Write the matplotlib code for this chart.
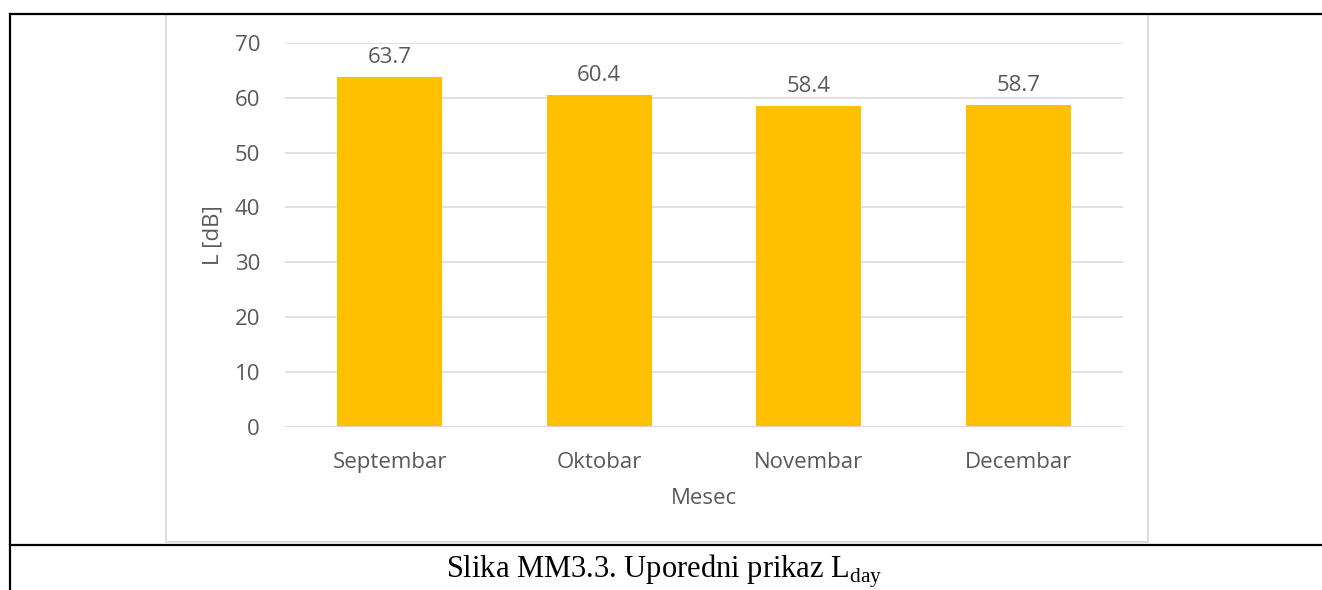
import matplotlib
matplotlib.use("Agg")
from matplotlib import pyplot as plt
from matplotlib.patches import Rectangle
from matplotlib.lines import Line2D

months = ["Septembar", "Oktobar", "Novembar", "Decembar"]
lday = [63.7, 60.4, 58.4, 58.7]
yticks = [0, 10, 20, 30, 40, 50, 60, 70]

W, H = 1322, 590
TXT = "#595959"
GRID = "#D9D9D9"
FS = 16

plt.rcParams["font.family"] = ["Open Sans", "DejaVu Sans"]
plt.rcParams["mathtext.fontset"] = "custom"
plt.rcParams["mathtext.rm"] = "Liberation Serif"

fig = plt.figure(figsize=(W / 100, H / 100), dpi=100)

# table borders and chart frame (pixel coords -> figure fraction)
def fx(x):
    return x / W

def fy(y):
    return 1 - y / H

fig.add_artist(Rectangle((fx(166), fy(542)), fx(1148) - fx(166), fy(14) - fy(542),
                         transform=fig.transFigure, fill=False, edgecolor=GRID, lw=1.3))
for xs, ys in [((10, 1322), (14, 14)), ((10, 10), (14, 590)), ((10, 1322), (545, 545))]:
    fig.add_artist(Line2D([fx(xs[0]), fx(xs[1])], [fy(ys[0]), fy(ys[1])],
                          transform=fig.transFigure, color="black", lw=1.6))

ax = fig.add_axes([fx(285), fy(427), fx(1123) - fx(285), fy(42.7) - fy(427)])
x = range(len(months))
bars = ax.bar(x, lday, width=0.5, color="#FFC000", zorder=3)
ax.set_xlim(-0.5, len(months) - 0.5)
ax.set_ylim(0, 70)
ax.set_yticks(yticks)
ax.set_xticks(list(x))
ax.set_xticklabels(months)
ax.grid(axis="y", color=GRID, lw=1.1, zorder=0)
for s in ax.spines.values():
    s.set_visible(False)
ax.axhline(0, color=GRID, lw=1.3, zorder=4)
ax.tick_params(length=0, labelsize=FS, labelcolor=TXT)
ax.tick_params(axis="y", pad=18)
ax.tick_params(axis="x", pad=18)

for b, v in zip(bars, lday):
    ax.annotate(f"{v:.1f}", (b.get_x() + b.get_width() / 2, v),
                xytext=(0, 9), textcoords="offset pixels",
                ha="center", va="bottom", fontsize=FS, color=TXT)

fig.text(fx(213), fy(235), "L [dB]", rotation=90, ha="center", va="center",
         fontsize=FS, color=TXT)
fig.text(fx(704), fy(499), "Mesec", ha="center", va="center",
         fontsize=FS, color=TXT)

fig.text(fx(664), fy(578), r"Slika MM3.3. Uporedni prikaz L$_{\mathrm{day}}$",
         ha="center", va="baseline", fontsize=22, color="black",
         family="Liberation Serif")

fig.savefig("out.png", dpi=100)
